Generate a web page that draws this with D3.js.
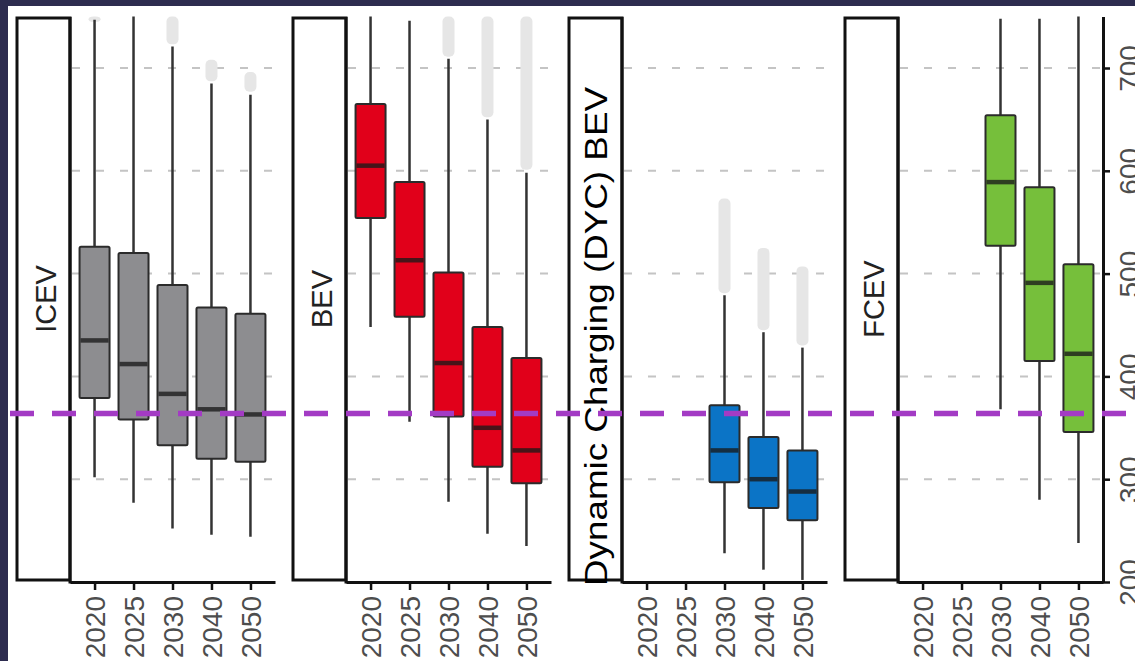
<!DOCTYPE html>
<html>
<head>
<meta charset="utf-8">
<script src="https://cdn.jsdelivr.net/npm/d3@7"></script>
<style>
  html, body { margin: 0; padding: 0; background: #ffffff; overflow: hidden; }
  svg { display: block; font-family: "Liberation Sans", Arial, sans-serif; }
</style>
</head>
<body>
<svg id="chart" width="1135" height="661"></svg>
<script>
// ---- data ----
const years = ["2020", "2025", "2030", "2040", "2050"];
const technologies = ["ICEV", "BEV", "Dynamic Charging (DYC) BEV", "FCEV"];
const yTicks = [200, 300, 400, 500, 600, 700];
const thresholdValue = 364;

// box statistics: lower whisker, lower quartile, median, upper quartile, upper whisker
const icevStats = [
  { year: "2020", lo: 302, q1: 379, med: 435, q3: 526, hi: 747 },
  { year: "2025", lo: 277, q1: 358, med: 412, q3: 520, hi: 750 },
  { year: "2030", lo: 252, q1: 333, med: 383, q3: 489, hi: 721 },
  { year: "2040", lo: 246, q1: 320, med: 368, q3: 467, hi: 685 },
  { year: "2050", lo: 244, q1: 317, med: 363, q3: 461, hi: 674 }
];
const bevStats = [
  { year: "2020", lo: 448, q1: 554, med: 605, q3: 665, hi: 750 },
  { year: "2025", lo: 356, q1: 458, med: 513, q3: 589, hi: 746 },
  { year: "2030", lo: 278, q1: 361, med: 413, q3: 501, hi: 709 },
  { year: "2040", lo: 247, q1: 312, med: 350, q3: 448, hi: 650 },
  { year: "2050", lo: 235, q1: 296, med: 328, q3: 418, hi: 598 }
];
const dycStats = [
  { year: "2030", lo: 228, q1: 297, med: 328, q3: 372, hi: 479 },
  { year: "2040", lo: 212, q1: 272, med: 300, q3: 341, hi: 443 },
  { year: "2050", lo: 202, q1: 260, med: 288, q3: 328, hi: 428 }
];
const fcevStats = [
  { year: "2030", lo: 368, q1: 527, med: 589, q3: 654, hi: 748 },
  { year: "2040", lo: 280, q1: 415, med: 491, q3: 584, hi: 748 },
  { year: "2050", lo: 238, q1: 346, med: 422, q3: 509, hi: 750 }
];

// outlier ranges above the upper whisker
const icevOutliers = [
  { year: "2020", from: 745, to: 750 },
  { year: "2030", from: 723, to: 750 },
  { year: "2040", from: 687, to: 708 },
  { year: "2050", from: 677, to: 696 }
];
const bevOutliers = [
  { year: "2030", from: 711, to: 750 },
  { year: "2040", from: 652, to: 750 },
  { year: "2050", from: 601, to: 750 }
];
const dycOutliers = [
  { year: "2030", from: 481, to: 573 },
  { year: "2040", from: 445, to: 525 },
  { year: "2050", from: 430, to: 507 }
];
const fcevOutliers = [];

const fills = ["#8d8d90", "#e1001a", "#0b74c6", "#76bf3b"];

// ---- layout ----
const W = 1135, H = 661;
const plotTop = 17, axisY = 582;
const stripW = 53, plotW = 205, panelStep = 276, firstStrip = 17;
const boxW = 30;

const svg = d3.select("#chart");

const y = d3.scaleLinear().domain([200, 750]).range([axisY, 16.6]);

const panels = [
  { name: technologies[0], stats: icevStats, outliers: icevOutliers, fill: fills[0] },
  { name: technologies[1], stats: bevStats, outliers: bevOutliers, fill: fills[1] },
  { name: technologies[2], stats: dycStats, outliers: dycOutliers, fill: fills[2] },
  { name: technologies[3], stats: fcevStats, outliers: fcevOutliers, fill: fills[3] }
];

svg.append("rect").attr("width", W).attr("height", H).attr("fill", "#ffffff");

panels.forEach((p, i) => {
  const stripX = firstStrip + i * panelStep;
  const plotX = stripX + stripW;
  const x = d3.scalePoint().domain(years).range([plotX, plotX + plotW]).padding(0.63);
  const g = svg.append("g");

  // dashed gridlines
  g.selectAll("line.grid").data(yTicks.filter(v => v > 200)).enter().append("line")
    .attr("x1", plotX + 2).attr("x2", plotX + plotW)
    .attr("y1", d => y(d)).attr("y2", d => y(d))
    .attr("stroke", "#c4c4c4").attr("stroke-width", 2)
    .attr("stroke-dasharray", "8,16");

  // outlier clusters
  g.selectAll("rect.out").data(p.outliers).enter().append("rect")
    .attr("x", d => x(d.year) - 6).attr("width", 12)
    .attr("y", d => y(d.to)).attr("height", d => y(d.from) - y(d.to))
    .attr("rx", 5).attr("fill", "#e6e6e6");

  // whiskers
  g.selectAll("line.whisker").data(p.stats).enter().append("line")
    .attr("x1", d => x(d.year)).attr("x2", d => x(d.year))
    .attr("y1", d => y(d.hi)).attr("y2", d => y(d.lo))
    .attr("stroke", "#333333").attr("stroke-width", 2.5);

  // boxes
  g.selectAll("rect.box").data(p.stats).enter().append("rect")
    .attr("x", d => x(d.year) - boxW / 2).attr("width", boxW)
    .attr("y", d => y(d.q3)).attr("height", d => y(d.q1) - y(d.q3))
    .attr("rx", 1.5)
    .attr("fill", p.fill).attr("stroke", "#2b2b2b").attr("stroke-width", 2);

  // medians
  g.selectAll("line.median").data(p.stats).enter().append("line")
    .attr("x1", d => x(d.year) - boxW / 2 + 1).attr("x2", d => x(d.year) + boxW / 2 - 1)
    .attr("y1", d => y(d.med)).attr("y2", d => y(d.med))
    .attr("stroke", "#1a1a1a").attr("stroke-opacity", 0.78).attr("stroke-width", 4.5);

  // x axis
  const xAxis = g.append("g").attr("transform", `translate(0,${axisY})`)
    .call(d3.axisBottom(x).tickSize(8).tickSizeOuter(0));
  xAxis.select(".domain").attr("stroke", "#111").attr("stroke-width", 3);
  xAxis.selectAll(".tick line").attr("stroke", "#111").attr("stroke-width", 2.5);
  xAxis.selectAll(".tick text")
    .attr("transform", "rotate(-90)")
    .attr("x", -14).attr("y", 0).attr("dy", "0.35em")
    .style("text-anchor", "end")
    .style("font-size", "28px")
    .style("font-family", "'Liberation Sans', Arial, sans-serif")
    .attr("fill", "#4d4d4d");

  // left panel border line
  g.append("line")
    .attr("x1", plotX).attr("x2", plotX)
    .attr("y1", plotTop).attr("y2", axisY + 1.5)
    .attr("stroke", "#111").attr("stroke-width", 3);

  // strip
  g.append("rect")
    .attr("x", stripX).attr("y", 18).attr("width", stripW).attr("height", 562)
    .attr("fill", "none").attr("stroke", "#111").attr("stroke-width", 3);

  if (i === 2) {
    g.append("text")
      .attr("transform", `translate(${stripX + 37.5},586) rotate(-90)`)
      .attr("text-anchor", "start")
      .attr("textLength", 499).attr("lengthAdjust", "spacingAndGlyphs")
      .style("font-size", "31px").attr("fill", "#000")
      .text(p.name);
  } else {
    g.append("text")
      .attr("transform", `translate(${stripX + 39},299) rotate(-90)`)
      .attr("text-anchor", "middle")
      .style("font-size", "29px").attr("fill", "#222")
      .text(p.name);
  }

  // right y axis on the last panel
  if (i === panels.length - 1) {
    const yAxis = g.append("g").attr("transform", `translate(${plotX + plotW},0)`)
      .call(d3.axisRight(y).tickValues(yTicks).tickSize(7).tickSizeOuter(0));
    yAxis.select(".domain").attr("stroke", "#111").attr("stroke-width", 3);
    yAxis.selectAll(".tick line").attr("stroke", "#111").attr("stroke-width", 2.5);
    yAxis.selectAll(".tick text")
      .attr("x", 0).attr("dy", 0)
      .attr("transform", "translate(36,0) rotate(-90)")
      .style("text-anchor", "middle")
      .style("font-size", "28px")
      .style("font-family", "'Liberation Sans', Arial, sans-serif")
      .attr("fill", "#4d4d4d");
  }
});

// threshold reference line
svg.append("line")
  .attr("x1", 10).attr("x2", W)
  .attr("y1", y(thresholdValue)).attr("y2", y(thresholdValue))
  .attr("stroke", "#a33bc4").attr("stroke-width", 5.5)
  .attr("stroke-dasharray", "24,18");

// frame
svg.append("rect").attr("x", 0).attr("y", 0).attr("width", W).attr("height", 6).attr("fill", "#2d2c4f");
svg.append("rect").attr("x", 0).attr("y", 0).attr("width", 8).attr("height", H).attr("fill", "#2d2c4f");
</script>
</body>
</html>
